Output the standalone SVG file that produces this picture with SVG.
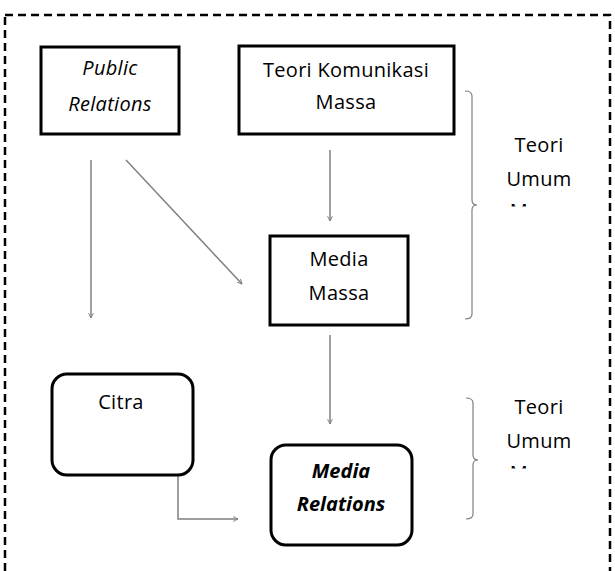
<svg xmlns="http://www.w3.org/2000/svg" width="615" height="571" viewBox="0 0 615 571">
<style>
.box{fill:#fff;stroke:#000;stroke-width:3}
.t{font-family:"Open Sans","Noto Sans",sans-serif;font-size:20px;letter-spacing:0.3px;fill:#000;text-anchor:middle}
.i{font-style:italic}
.b{font-weight:bold;letter-spacing:0px}
.c{fill:none;stroke:#808080;stroke-width:1.5}
.br{fill:none;stroke:#808080;stroke-width:1.2}
</style>
<defs>
<marker id="ah" viewBox="0 0 10 10" refX="9" refY="5" markerWidth="6" markerHeight="6" orient="auto" markerUnits="userSpaceOnUse">
<path d="M1,1 L9,5 L1,9" fill="none" stroke="#808080" stroke-width="1.6"/>
</marker>
<clipPath id="clip1"><rect x="500" y="200" width="80" height="6.5"/></clipPath>
<clipPath id="clip2"><rect x="500" y="460" width="80" height="8.5"/></clipPath>
</defs>
<rect x="5" y="15" width="605" height="570" fill="none" stroke="#000" stroke-width="2.5" stroke-dasharray="8,5"/>
<g id="connectors">
<line class="c" x1="91" y1="160" x2="91" y2="318" marker-end="url(#ah)"/>
<line class="c" x1="126" y1="160" x2="242" y2="284" marker-end="url(#ah)"/>
<line class="c" x1="330" y1="150" x2="330" y2="221" marker-end="url(#ah)"/>
<line class="c" x1="330" y1="335" x2="330" y2="424" marker-end="url(#ah)"/>
<polyline class="c" points="178,476 178,519 238,519" marker-end="url(#ah)"/>
</g>
<g id="public-relations">
<rect class="box" x="41" y="47" width="138" height="87"/>
<text class="t i" x="110" y="75">Public</text>
<text class="t i" x="110" y="111">Relations</text>
</g>
<g id="teori-komunikasi-massa">
<rect class="box" x="239" y="46" width="215" height="88"/>
<text class="t" x="346" y="77">Teori Komunikasi</text>
<text class="t" x="346" y="109">Massa</text>
</g>
<g id="media-massa">
<rect class="box" x="270" y="236" width="138" height="89"/>
<text class="t" x="339" y="266">Media</text>
<text class="t" x="339" y="300">Massa</text>
</g>
<g id="citra">
<rect class="box" x="52" y="374" width="141" height="101" rx="15"/>
<text class="t" x="121" y="409">Citra</text>
</g>
<g id="media-relations">
<rect class="box" x="271" y="445" width="141" height="100" rx="15"/>
<text class="t i b" x="341" y="478">Media</text>
<text class="t i b" x="341" y="511">Relations</text>
</g>
<g id="bracket-1">
<path class="br" d="M465,91 Q472,91 472,96 L472,200 Q472,205 477,205 Q472,205 472,210 L472,314 Q472,319 465,319"/>
<text class="t" x="539" y="152">Teori</text>
<text class="t" x="539" y="186">Umum</text>
<text class="t" x="519" y="218" clip-path="url(#clip1)">M</text>
</g>
<g id="bracket-2">
<path class="br" d="M466,398 Q473,398 473,403 L473,455 Q473,460 478,460 Q473,460 473,465 L473,514 Q473,519 466,519"/>
<text class="t" x="539" y="414">Teori</text>
<text class="t" x="539" y="448">Umum</text>
<text class="t" x="519" y="480" clip-path="url(#clip2)">M</text>
</g>
</svg>
